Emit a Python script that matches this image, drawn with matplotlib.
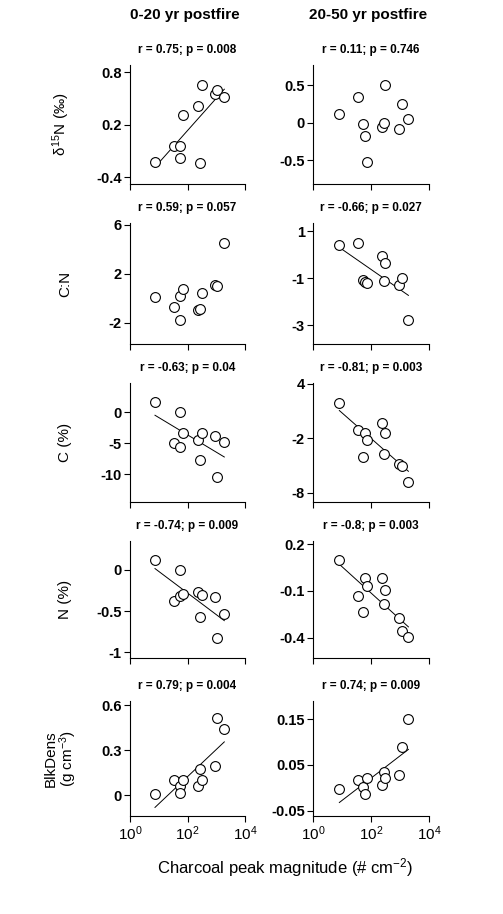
import numpy as np
import matplotlib
matplotlib.use("Agg")
import matplotlib.pyplot as plt

plt.rcParams['font.family'] = ['Liberation Sans', 'DejaVu Sans']
plt.rcParams['mathtext.fontset'] = 'custom'
plt.rcParams['mathtext.rm'] = 'Liberation Sans'
plt.rcParams['mathtext.it'] = 'Liberation Sans'

# charcoal peak magnitude (# cm-2)
x_early = [7.4, 34, 55, 55, 71, 240, 269, 309, 912, 1096, 1905]
x_late = [8.1, 36, 55, 62, 74, 234, 288, 309, 933, 1148, 1950]

# 0-20 yr postfire
d15n_early = [-0.23, -0.04, -0.04, -0.185, 0.305, 0.41, -0.24, 0.65, 0.55, 0.60, 0.51]
cn_early = [0.08, -0.74, -1.78, 0.14, 0.74, -0.96, -0.88, 0.41, 1.10, 0.96, 4.52]
c_early = [1.68, -5.0, -5.58, 0.0, -3.32, -4.53, -7.68, -3.32, -3.84, -10.42, -4.74]
n_early = [0.12, -0.374, -0.004, -0.32, -0.29, -0.27, -0.57, -0.30, -0.325, -0.83, -0.535]
bd_early = [0.009, 0.10, 0.06, 0.011, 0.10, 0.06, 0.178, 0.104, 0.193, 0.518, 0.444]

# 20-50 yr postfire
d15n_late = [0.116, 0.338, -0.018, -0.182, -0.529, -0.053, -0.009, 0.502, -0.089, 0.244, 0.049]
cn_late = [0.42, 0.52, -1.07, -1.14, -1.21, -0.05, -1.11, -0.36, -1.28, -0.97, -2.77]
c_late = [1.94, -1.12, -4.06, -1.43, -2.19, -0.28, -3.72, -1.35, -4.87, -5.06, -6.85]
n_late = [0.10, -0.132, -0.233, -0.016, -0.068, -0.016, -0.182, -0.094, -0.274, -0.356, -0.395]
bd_late = [-0.0025, 0.017, 0.0025, -0.013, 0.021, 0.006, 0.0335, 0.021, 0.028, 0.089, 0.15]

stats_early = ["r = 0.75; p = 0.008", "r = 0.59; p = 0.057", "r = -0.63; p = 0.04",
               "r = -0.74; p = 0.009", "r = 0.79; p = 0.004"]
stats_late = ["r = 0.11; p = 0.746", "r = -0.66; p = 0.027", "r = -0.81; p = 0.003",
              "r = -0.8; p = 0.003", "r = 0.74; p = 0.009"]
fit_early = [True, False, True, True, True]
fit_late = [False, True, True, True, True]

ylabels = [r'$\delta^{15}$N (‰)', 'C:N', 'C (%)', 'N (%)', 'BlkDens\n' + r'(g cm$^{-3}$)']

ylim_early = [(-0.48, 0.88), (-3.75, 6.15), (-14.5, 4.7), (-1.07, 0.35), (-0.14, 0.63)]
ylim_late = [(-0.82, 0.77), (-3.8, 1.35), (-9.0, 4.1), (-0.53, 0.22), (-0.062, 0.19)]
yticks_early = [["-0.4", "0.2", "0.8"], ["-2", "2", "6"], ["-10", "-5", "0"],
                ["-1", "-0.5", "0"], ["0", "0.3", "0.6"]]
yticks_late = [["-0.5", "0", "0.5"], ["-3", "-1", "1"], ["-8", "-2", "4"],
               ["-0.4", "-0.1", "0.2"], ["-0.05", "0.05", "0.15"]]

early = [d15n_early, cn_early, c_early, n_early, bd_early]
late = [d15n_late, cn_late, c_late, n_late, bd_late]

W, H = 503, 914
fig = plt.figure(figsize=(W / 100, H / 100), dpi=100)

row_px = [(65, 184), (223, 344), (383, 502), (541, 658), (701, 816)]
col_px = [(130, 245), (313, 429)]


def panel(ax, x, y, ylim, ticks, title, fit):
    ax.scatter(x, y, s=50, facecolors='white', edgecolors='black', linewidths=0.8, zorder=3)
    if fit:
        lx = np.log10(x)
        b, a = np.polyfit(lx, y, 1)
        xs = np.array([min(lx), max(lx)])
        ax.plot(10 ** xs, a + b * xs, color='black', lw=0.7, zorder=2)
    ax.set_xscale('log')
    ax.set_xlim(1, 10000)
    ax.set_xticks([1, 100, 10000])
    ax.minorticks_off()
    ax.set_ylim(*ylim)
    ax.set_yticks([float(t) for t in ticks])
    ax.set_yticklabels(ticks, fontsize=10.5, fontweight='bold')
    ax.spines['top'].set_visible(False)
    ax.spines['right'].set_visible(False)
    ax.spines['left'].set_linewidth(0.8)
    ax.spines['bottom'].set_linewidth(0.8)
    ax.tick_params(direction='out', length=4, width=0.8, pad=2)
    ax.set_title(title, fontsize=8.5, fontweight='bold', pad=9)


for i in range(5):
    top, bot = row_px[i]
    for j, (data, xs, lims, tks, sts, fits) in enumerate([
            (early, x_early, ylim_early, yticks_early, stats_early, fit_early),
            (late, x_late, ylim_late, yticks_late, stats_late, fit_late)]):
        l, r = col_px[j]
        ax = fig.add_axes([l / W, 1 - bot / H, (r - l) / W, (bot - top) / H])
        panel(ax, xs, data[i], lims[i], tks[i], sts[i], fits[i])
        if i == 4:
            ax.set_xticklabels([r'$10^0$', r'$10^2$', r'$10^4$'], fontsize=11)
        else:
            ax.set_xticklabels([])
        if j == 0:
            ax.set_ylabel(ylabels[i], fontsize=11, linespacing=1.0)
            ax.yaxis.set_label_coords(-0.5 if i < 4 else -0.44, 0.5)

fig.text(185 / W, 1 - 15 / H, "0-20 yr postfire", ha='center', va='center',
         fontsize=11, fontweight='bold')
fig.text(368 / W, 1 - 15 / H, "20-50 yr postfire", ha='center', va='center',
         fontsize=11, fontweight='bold')
fig.text(285 / W, 1 - 868 / H, r'Charcoal peak magnitude (# cm$^{-2}$)', ha='center',
         va='center', fontsize=12)

fig.savefig("out.png", dpi=100)
